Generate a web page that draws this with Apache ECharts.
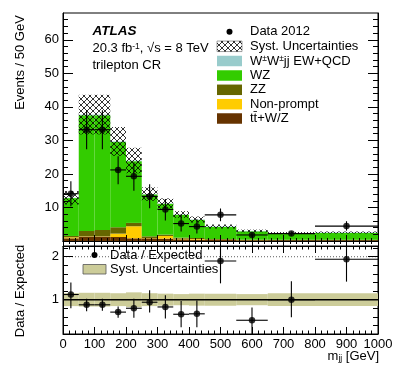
<!DOCTYPE html>
<html><head><meta charset="utf-8">
<script src="https://cdn.jsdelivr.net/npm/echarts@6/dist/echarts.min.js"></script>
<style>html,body{margin:0;padding:0;background:#fff}#c{width:399px;height:372px}</style>
</head><body><div id="c"></div>
<script>
// ---- data (events / 50 GeV) ----
const binEdges = [0,50,100,150,200,250,300,350,400,450,550,650,800,1000];
const ttV       = [0.8, 1.3, 1.3, 1.2, 0.8, 0.8, 0.7, 0.5, 0.4, 0.3, 0.2, 0.2, 0.2];
const nonPrompt = [0.3, 0.1, 0.1, 1.0, 3.6, 0.1, 0.8, 0.2, 0.2, 0.1, 0.05, 0.05, 0.05];
const zz        = [0.4, 1.6, 1.9, 1.9, 1.0, 0.5, 0.4, 0.3, 0.3, 0.2, 0.15, 0.1, 0.1];
const wz        = [11.3, 34.5, 34.2, 25.4, 18.4, 12.5, 9.2, 6.8, 5.4, 3.6, 2.5, 1.95, 2.05];
const wwjj      = [0.1, 0.2, 0.2, 0.2, 0.2, 0.1, 0.1, 0.1, 0.1, 0.1, 0.1, 0.1, 0.1];
const systErr   = [2.0, 5.9, 5.9, 4.3, 3.8, 2.0, 1.5, 1.0, 0.9, 0.6, 0.4, 0.3, 0.3];
const dataX     = [25, 75, 125, 175, 225, 275, 325, 375, 425, 500, 600, 725, 900];
const dataY     = [14.1, 33.2, 33.2, 21.2, 19.3, 13.3, 9.4, 5.2, 4.3, 7.8, 1.8, 2.2, 4.45];
const dataHi    = [17.8, 39.0, 39.0, 25.3, 23.4, 16.9, 12.5, 7.9, 6.5, 9.7, 2.5, 2.8, 5.9];
const dataLo    = [10.4, 27.4, 27.4, 16.9, 15.0, 9.8, 6.1, 2.8, 2.2, 5.9, 1.2, 1.6, 3.1];
// ---- ratio panel ----
const ratioY    = [1.12, 0.88, 0.88, 0.71, 0.80, 0.94, 0.83, 0.66, 0.67, 1.90, 0.52, 1.00, 1.94];
const ratioHi   = [1.40, 1.02, 1.02, 0.84, 1.02, 1.22, 1.10, 0.97, 0.98, 2.40, 0.82, 1.43, 2.40];
const ratioLo   = [0.80, 0.73, 0.74, 0.58, 0.58, 0.70, 0.56, 0.36, 0.36, 1.38, 0.10, 0.59, 1.42];
const ratioSyst = [0.15, 0.16, 0.16, 0.15, 0.17, 0.15, 0.14, 0.13, 0.14, 0.14, 0.13, 0.15, 0.15];
// ---- ticks ----
const yTopMajor = [0,10,20,30,40,50,60];
const yTopLabels = [10,20,30,40,50,60];
const yTopMinor = [2,4,6,8,12,14,16,18,22,24,26,28,32,34,36,38,42,44,46,48,52,54,56,58,62,64,66];
const yBotMajor = [1,2];
const yBotMinor = [0.4,0.6,0.8,1.2,1.4,1.6,1.8,2.2];

const FONT = '"Liberation Sans", Arial, Helvetica, sans-serif';
const C_TTV = '#663300', C_NP = '#ffcc00', C_ZZ = '#666600', C_WZ = '#33cc00', C_WW = '#99cccc', C_BAND = '#cccc99';

// hatch pattern
const pc = document.createElement('canvas'); pc.width = 6; pc.height = 6;
const g = pc.getContext('2d'); g.strokeStyle = '#000'; g.lineWidth = 0.8;
g.beginPath(); g.moveTo(0,0); g.lineTo(6,6); g.moveTo(6,0); g.lineTo(0,6); g.stroke();
const hatch = {image: pc, repeat: 'repeat'};

const comps = [ttV, nonPrompt, zz, wz, wwjj];
const compColors = [C_TTV, C_NP, C_ZZ, C_WZ, C_WW];
const compNames = ['tt+W/Z','Non-prompt','ZZ','WZ','WWjj'];
const cum = binEdges.slice(0,-1).map(()=>0);
const stackData = comps.map(arr => arr.map((v,i) => { const lo = cum[i]; cum[i] += v; return [binEdges[i], binEdges[i+1], lo, cum[i]]; }));
const totals = cum.slice();
const systData = totals.map((t,i)=>[binEdges[i], binEdges[i+1], t - systErr[i], t + systErr[i]]);
const errData = dataX.map((x,i)=>[x, dataY[i], dataLo[i], dataHi[i], binEdges[i], binEdges[i+1]]);
const ratioErrData = dataX.map((x,i)=>[x, ratioY[i], ratioLo[i], ratioHi[i], binEdges[i], binEdges[i+1]]);
const bandData = ratioSyst.map((r,i)=>[binEdges[i], binEdges[i+1], 1 - r, 1 + r]);

function rectRender(fill, extra){
  return function(params, api){
    const a = api.coord([api.value(0), api.value(3)]);
    const b = api.coord([api.value(1), api.value(2)]);
    return {type:'rect', shape:{x:a[0], y:a[1], width:b[0]-a[0], height:b[1]-a[1]},
      style: Object.assign({fill: fill}, extra || {})};
  };
}
function errRender(params, api){
  const x = api.value(0), y = api.value(1);
  const pLo = api.coord([x, api.value(2)]), pHi = api.coord([x, api.value(3)]);
  const pL = api.coord([api.value(4), y]), pR = api.coord([api.value(5), y]);
  return {type:'group', children:[
    {type:'line', shape:{x1:pLo[0], y1:pLo[1], x2:pHi[0], y2:pHi[1]}, style:{stroke:'#000', lineWidth:1.1}},
    {type:'line', shape:{x1:pL[0], y1:pL[1], x2:pR[0], y2:pR[1]}, style:{stroke:'#000', lineWidth:1.1}}
  ]};
}
function hline(params, api){
  const a = api.coord([api.value(0), api.value(2)]), b = api.coord([api.value(1), api.value(2)]);
  const dotted = api.value(3) === 1;
  return {type:'line', shape:{x1:a[0], y1:a[1], x2:b[0], y2:b[1]},
    style: dotted ? {stroke:'#333', lineWidth:0.8, lineDash:[1,2]} : {stroke:'#000', lineWidth:1.5}};
}
const refLines = [[0,1000,1,0],[0,1000,2,1]];

const xTickBase = (grid, pos, len, mlen, labels) => ({
  type:'value', gridIndex:grid, position:pos, min:0, max:1000, interval:100, z:5,
  axisLine:{show:true, lineStyle:{color:'#000', width:1}},
  axisTick:{show:true, inside:true, length:len, lineStyle:{color:'#000'}},
  minorTick:{show:true, splitNumber:5, length:mlen, lineStyle:{color:'#000'}},
  splitLine:{show:false}, minorSplitLine:{show:false},
  axisLabel: labels ? {show:true, color:'#000', fontSize:13, fontFamily:FONT, margin:4, formatter: v => String(v)} : {show:false}
});
const yAx = (grid, pos, min, max, ticks, len, labels, line) => ({
  type:'value', gridIndex:grid, position:pos, min:min, max:max, z:5,
  axisLine:{show:line, lineStyle:{color:'#000', width:1}},
  axisTick:{show:true, inside:true, length:len, customValues:ticks, lineStyle:{color:'#000'}},
  splitLine:{show:false},
  axisLabel: labels ? {show:true, customValues:labels, color:'#000', fontSize:13, fontFamily:FONT, margin:4, formatter: v => String(v)} : {show:false}
});

const series = [];
comps.forEach((arr,k)=>{
  series.push({type:'custom', name:compNames[k], xAxisIndex:0, yAxisIndex:0, clip:true, z:2,
    renderItem: rectRender(compColors[k]), encode:{x:[0,1], y:[2,3]}, data: stackData[k]});
});
series.push({type:'custom', name:'syst', xAxisIndex:0, yAxisIndex:0, clip:true, z:3,
  renderItem: rectRender(hatch), encode:{x:[0,1], y:[2,3]}, data: systData});
series.push({type:'custom', name:'dataErr', xAxisIndex:0, yAxisIndex:0, clip:true, z:4,
  renderItem: errRender, encode:{x:[0,4,5], y:[1,2,3]}, data: errData});
series.push({type:'scatter', name:'Data 2012', xAxisIndex:0, yAxisIndex:0, z:5, symbol:'circle', symbolSize:6.5,
  itemStyle:{color:'#000'}, data: dataX.map((x,i)=>[x, dataY[i]])});
// ratio panel
series.push({type:'custom', name:'band', xAxisIndex:2, yAxisIndex:4, clip:true, z:2,
  renderItem: rectRender(C_BAND), encode:{x:[0,1], y:[2,3]}, data: bandData});
series.push({type:'custom', name:'ref', xAxisIndex:2, yAxisIndex:4, clip:true, z:3,
  renderItem: hline, encode:{x:[0,1], y:[2]}, data: refLines});
series.push({type:'custom', name:'ratioErr', xAxisIndex:2, yAxisIndex:4, clip:true, z:4,
  renderItem: errRender, encode:{x:[0,4,5], y:[1,2,3]}, data: ratioErrData});
series.push({type:'scatter', name:'Data / Expected', xAxisIndex:2, yAxisIndex:4, z:5, symbol:'circle', symbolSize:6.5,
  itemStyle:{color:'#000'}, data: dataX.map((x,i)=>[x, ratioY[i]])});

const txt = (x, y, text, extra) => ({type:'text', x:x, y:y, z:20,
  style: Object.assign({text:text, fill:'#000', fontSize:13, fontFamily:FONT, align:'left', verticalAlign:'middle'}, extra||{})});
const box = (x, y, w, h, fill, stroke) => ({type:'rect', z:20, shape:{x:x, y:y, width:w, height:h},
  style:{fill:fill, stroke:stroke || null, lineWidth:stroke ? 0.8 : 0}});
const legRows = [31.7, 46.3, 61, 75.5, 89.8, 104.2, 118.5];
const LX = 217, LW = 25, LH = 10.5, TX = 250;
const richBase = {a:{fontSize:13, fontFamily:FONT, fill:'#000'}, s:{fontSize:8.5, fontFamily:FONT, fill:'#000', verticalAlign:'top'}, d:{fontSize:8.5, fontFamily:FONT, fill:'#000', verticalAlign:'bottom', padding:[5,0,0,0]}};

const graphics = [
  txt(92.5, 31.5, 'ATLAS', {fontWeight:'bold', fontStyle:'italic', fontSize:13.5}),
  txt(92.5, 48.5, '{a|20.3 fb}{s|-1}{a|, √s = 8 TeV}', {rich: richBase}),
  txt(92.5, 65, 'trilepton CR'),
  // legend
  {type:'circle', z:20, shape:{cx:LX+LW/2, cy:legRows[0], r:3}, style:{fill:'#000'}},
  txt(TX, legRows[0], 'Data 2012'),
  box(LX, legRows[1]-LH/2, LW, LH, '#fff', '#888'),
  box(LX, legRows[1]-LH/2, LW, LH, hatch),
  txt(TX, legRows[1], 'Syst. Uncertainties'),
  box(LX, legRows[2]-LH/2, LW, LH, C_WW),
  txt(TX, legRows[2], '{a|W}{s|±}{a|W}{s|±}{a|jj EW+QCD}', {rich: richBase}),
  box(LX, legRows[3]-LH/2, LW, LH, C_WZ),
  txt(TX, legRows[3], 'WZ'),
  box(LX, legRows[4]-LH/2, LW, LH, C_ZZ),
  txt(TX, legRows[4], 'ZZ'),
  box(LX, legRows[5]-LH/2, LW, LH, C_NP),
  txt(TX, legRows[5], 'Non-prompt'),
  box(LX, legRows[6]-LH/2, LW, LH, C_TTV),
  txt(TX, legRows[6], 't\u0074\u0304+W/Z'),
  // lower legend
  {type:'circle', z:20, shape:{cx:94.5, cy:255, r:3}, style:{fill:'#000'}},
  txt(110, 255, 'Data / Expected'),
  box(83, 264.5, 23, 9.5, C_BAND, '#555'),
  txt(110, 269.5, 'Syst. Uncertainties'),
  // axis titles
  txt(20, 62.5, 'Events / 50 GeV', {align:'center', verticalAlign:'middle'}),
  txt(20, 291, 'Data / Expected', {align:'center', verticalAlign:'middle'}),
  txt(379, 356, '{a|m}{d|jj}{a| [GeV]}', {align:'right', rich: richBase})
];
graphics[graphics.length-3].rotation = Math.PI/2;
graphics[graphics.length-2].rotation = Math.PI/2;

const chart = echarts.init(document.getElementById('c'), null, {renderer:'canvas'});
chart.setOption({
  animation:false,
  backgroundColor:'#fff',
  grid:[
    {left:63, top:13, width:315, height:228, show:true, borderColor:'#000', borderWidth:1, backgroundColor:'transparent'},
    {left:63, top:246, width:315, height:88, show:true, borderColor:'#000', borderWidth:1, backgroundColor:'transparent'}
  ],
  xAxis:[
    xTickBase(0,'bottom',6,3,false),
    xTickBase(0,'top',6,3,false),
    xTickBase(1,'bottom',7,3.5,true),
    xTickBase(1,'top',7,3.5,false)
  ],
  yAxis:[
    yAx(0,'left',0,68,yTopMajor,10,yTopLabels,true),
    yAx(0,'left',0,68,yTopMinor,5,null,false),
    yAx(0,'right',0,68,yTopMajor,10,null,true),
    yAx(0,'right',0,68,yTopMinor,5,null,false),
    yAx(1,'left',0.2,2.25,yBotMajor,10,yBotMajor,true),
    yAx(1,'left',0.2,2.25,yBotMinor,5,null,false),
    yAx(1,'right',0.2,2.25,yBotMajor,10,null,true),
    yAx(1,'right',0.2,2.25,yBotMinor,5,null,false)
  ],
  series: series,
  graphic: graphics
});
</script></body></html>
